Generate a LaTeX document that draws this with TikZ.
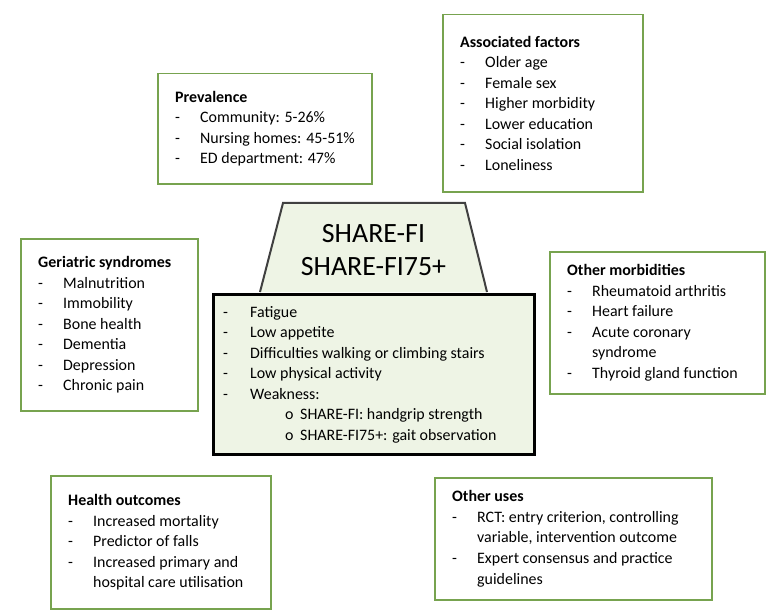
\documentclass[tikz,border=0pt]{standalone}
\usepackage{fontspec}
\setmainfont{Carlito}
\definecolor{boxgreen}{HTML}{77A34F}
\definecolor{lightfill}{HTML}{EEF4E5}
\definecolor{trapline}{HTML}{404040}
\newcommand{\itm}[1]{\makebox[25bp][l]{-}#1}
\newcommand{\cont}[1]{\hspace*{25bp}#1}
\newcommand{\citm}[1]{\makebox[27bp][l]{-}#1}
\newcommand{\subitm}[1]{\hspace*{62bp}\makebox[15bp][l]{o}#1}
\begin{document}
\begin{tikzpicture}[x=1bp,y=-1bp,
  infobox/.style={draw=boxgreen, line width=1.5bp, fill=white, anchor=north west, inner sep=0pt},
  infotext/.style={anchor=west, align=left, inner sep=0pt, font=\fontsize{16}{20.6}\selectfont},
  titletext/.style={align=center, inner sep=0pt, font=\fontsize{28}{34}\selectfont},
]
\useasboundingbox[fill=white] (0,0) rectangle (780,612);

% Prevalence
\node[infobox, minimum width=214bp, minimum height=110bp] (prev) at (157,73) {};
\node[infotext] (prevtxt) at ([xshift=18bp]prev.west) {\textbf{Prevalence}\\
\itm{Community: 5-26\%}\\
\itm{Nursing homes: 45-51\%}\\
\itm{ED department: 47\%}};

% Associated factors
\node[infobox, minimum width=200bp, minimum height=177bp] (assoc) at (442,14) {};
\node[infotext] (assoctxt) at ([xshift=18bp]assoc.west) {\textbf{Associated factors}\\
\itm{Older age}\\
\itm{Female sex}\\
\itm{Higher morbidity}\\
\itm{Lower education}\\
\itm{Social isolation}\\
\itm{Loneliness}};

% Geriatric syndromes
\node[infobox, minimum width=177bp, minimum height=172bp] (geri) at (20,238) {};
\node[infotext] (geritxt) at ([xshift=18bp]geri.west) {\textbf{Geriatric syndromes}\\
\itm{Malnutrition}\\
\itm{Immobility}\\
\itm{Bone health}\\
\itm{Dementia}\\
\itm{Depression}\\
\itm{Chronic pain}};

% Other morbidities
\node[infobox, minimum width=215bp, minimum height=142bp] (morb) at (549,251) {};
\node[infotext] (morbtxt) at ([xshift=18bp]morb.west) {\textbf{Other morbidities}\\
\itm{Rheumatoid arthritis}\\
\itm{Heart failure}\\
\itm{Acute coronary}\\
\cont{syndrome}\\
\itm{Thyroid gland function}};

% Health outcomes
\node[infobox, minimum width=220bp, minimum height=133bp] (health) at (50,475) {};
\node[infotext] (healthtxt) at ([xshift=18bp]health.west) {\textbf{Health outcomes}\\
\itm{Increased mortality}\\
\itm{Predictor of falls}\\
\itm{Increased primary and}\\
\cont{hospital care utilisation}};

% Other uses
\node[infobox, minimum width=277bp, minimum height=122bp] (uses) at (434,477) {};
\node[infotext] (usestxt) at ([xshift=18bp]uses.west) {\textbf{Other uses}\\
\itm{RCT: entry criterion, controlling}\\
\cont{variable, intervention outcome}\\
\itm{Expert consensus and practice}\\
\cont{guidelines}};

% Trapezoid header
\coordinate (tl) at (283,203);
\coordinate (tr) at (465,203);
\coordinate (br) at (487,292);
\coordinate (bl) at (260,292);
\draw[draw=trapline, fill=lightfill, line width=2bp, line join=miter] (bl) -- (tl) -- (tr) -- (br);
\node[titletext] (title) at (373.5,250) {SHARE-FI\\SHARE-FI75+};

% Central box
\node[draw=black, line width=3bp, fill=lightfill, anchor=north west, inner sep=0pt,
      minimum width=321bp, minimum height=160bp] (core) at (212,293) {};
\node[infotext] (coretxt) at ([xshift=11bp]core.west) {\citm{Fatigue}\\
\citm{Low appetite}\\
\citm{Difficulties walking or climbing stairs}\\
\citm{Low physical activity}\\
\citm{Weakness:}\\
\subitm{SHARE-FI: handgrip strength}\\
\subitm{SHARE-FI75+: gait observation}};
\end{tikzpicture}
\end{document}
